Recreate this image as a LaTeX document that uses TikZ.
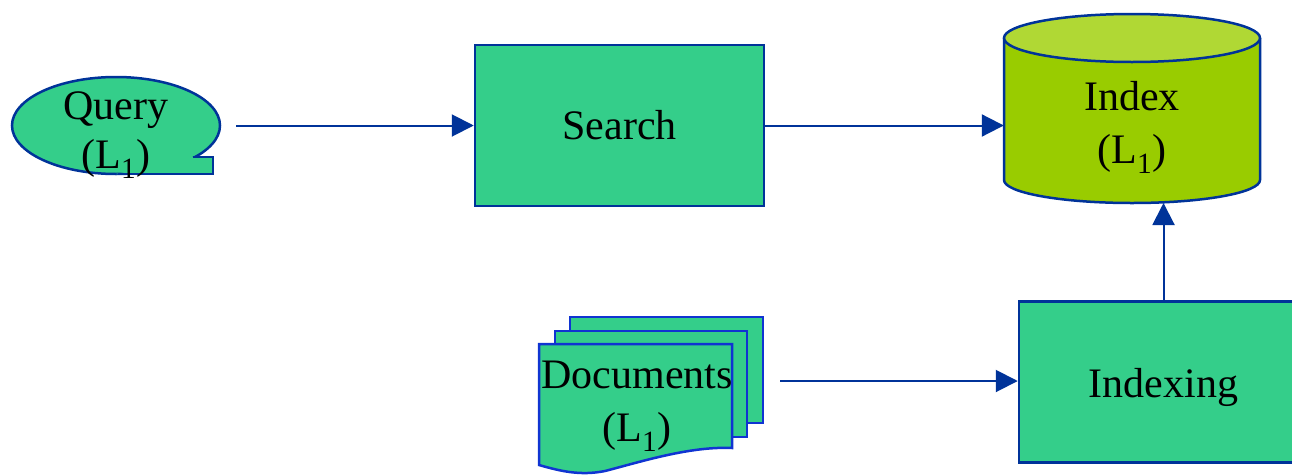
\documentclass[tikz,border=0pt]{standalone}
\usepackage{fontspec}
\setmainfont{Liberation Serif}
\usetikzlibrary{arrows.meta}
\definecolor{boxgreen}{RGB}{52,206,138}
\definecolor{edgeblue}{RGB}{0,51,153}
\definecolor{docblue}{RGB}{16,52,210}
\definecolor{cylbody}{RGB}{153,204,0}
\definecolor{cyltop}{RGB}{176,216,52}
\tikzset{
  big/.style={font=\fontsize{42}{50}\selectfont},
  lbl/.style={big, anchor=base, inner sep=0pt},
  procbox/.style={draw=edgeblue, line width=2.5pt, fill=boxgreen,
    minimum width=289pt, minimum height=161pt, big, inner sep=0pt},
  ghost/.style={inner sep=0pt},
  flow/.style={draw=edgeblue, line width=2pt,
    -{Triangle[length=22pt,width=22pt]}},
  pageedge/.style={draw=docblue, line width=2.5pt, fill=boxgreen},
}
\begin{document}
\begin{tikzpicture}[x=1pt,y=-1pt]
\useasboundingbox (0,0) rectangle (1292,474);

% Query: balloon with a square tail at the lower right
\fill[boxgreen] (116,125.5) ellipse [x radius=104, y radius=48.5];
\draw[edgeblue, line width=2.5pt] (116,125.5) ellipse [x radius=104, y radius=48.5];
\fill[boxgreen] (190,157) -- (213,157) -- (213,174) -- (116,174) -- cycle;
\draw[edgeblue, line width=2.5pt, line join=miter] (193,157) -- (213,157) -- (213,174) -- (118,174);
\node[ghost, minimum width=208pt, minimum height=97pt] (q) at (116,125.5) {};
\node[lbl] (q1) at (116,119) {Query};
\node[lbl] (q2) at (116,168) {(L\textsubscript{1})};

% Search
\node[procbox] (s) at (619.5,125.5) {Search};

% Index: cylinder
\fill[cylbody] (1004,38) -- (1004,180) arc[start angle=180, end angle=0, x radius=128, y radius=23] -- (1260,38) -- cycle;
\draw[edgeblue, line width=2.5pt] (1004,38) -- (1004,180) arc[start angle=180, end angle=0, x radius=128, y radius=23] -- (1260,38);
\filldraw[fill=cyltop, draw=edgeblue, line width=2.5pt] (1132,38) ellipse [x radius=128, y radius=24];
\node[ghost, minimum width=256pt, minimum height=189pt] (idx) at (1132,108.5) {};
\node[lbl] (i1) at (1132,110) {Index};
\node[lbl] (i2) at (1132,163) {(L\textsubscript{1})};

% Documents: stack of three pages, the front one with a wavy foot
\draw[pageedge] (570,317) rectangle (763,423);
\draw[pageedge] (555,331) rectangle (747,437);
\draw[pageedge] (539,344) -- (732,344) -- (732,448)
  .. controls (690,446) and (640,462) .. (605,471)
  .. controls (580,476) and (560,471) .. (539,465) -- cycle;
\node[ghost, minimum width=224pt, minimum height=130pt] (d) at (651,381) {};
\node[lbl] (d1) at (637,388) {Documents};
\node[lbl] (d2) at (637,441) {(L\textsubscript{1})};

% Indexing (runs past the right edge)
\node[procbox] (ix) at (1163.5,382) {};
\node[lbl] (ix1) at (1163.5,397) {Indexing};

% Flow
\draw[flow] ([xshift=16pt]q.east) -- (s.west);
\draw[flow] (s.east) -- (idx.west |- s.east);
\draw[flow] ([xshift=17pt]d.east) -- (ix.west |- d.east);
\draw[flow] (ix.north) -- (ix.north |- 0,203);
\end{tikzpicture}
\end{document}
